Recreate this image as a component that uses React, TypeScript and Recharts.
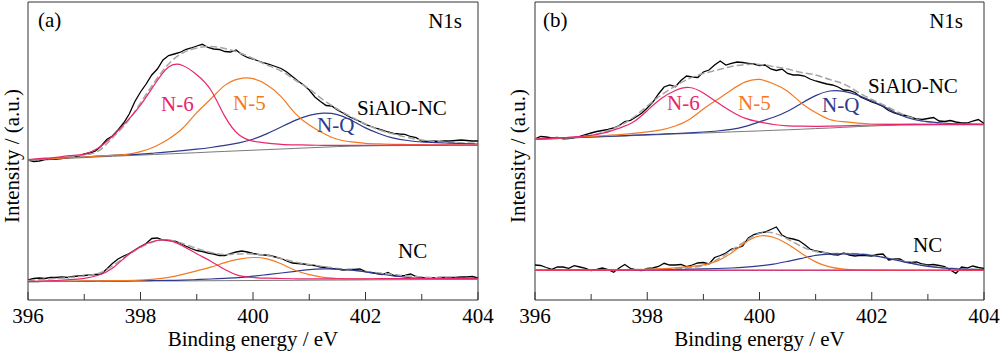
import React from 'react';
import { LineChart, Line, XAxis, YAxis, ReferenceArea } from 'recharts';

// energy grids (eV)
const FIT_E = [396, 396.25, 396.5, 396.75, 397, 397.25, 397.5, 397.75, 398, 398.25, 398.5, 398.75, 399, 399.25, 399.5, 399.75, 400,
  400.25, 400.5, 400.75, 401, 401.25, 401.5, 401.75, 402, 402.25, 402.5, 402.75, 403, 403.25, 403.5, 403.75, 404];
const RAW_E = [396, 396.1, 396.2, 396.3, 396.4, 396.5, 396.6, 396.7, 396.8, 396.9,
  397, 397.1, 397.2, 397.3, 397.4, 397.5, 397.6, 397.7, 397.8, 397.9,
  398, 398.1, 398.2, 398.3, 398.4, 398.5, 398.6, 398.7, 398.8, 398.9,
  399, 399.1, 399.2, 399.3, 399.4, 399.5, 399.6, 399.7, 399.8, 399.9,
  400, 400.1, 400.2, 400.3, 400.4, 400.5, 400.6, 400.7, 400.8, 400.9,
  401, 401.1, 401.2, 401.3, 401.4, 401.5, 401.6, 401.7, 401.8, 401.9,
  402, 402.1, 402.2, 402.3, 402.4, 402.5, 402.6, 402.7, 402.8, 402.9,
  403, 403.1, 403.2, 403.3, 403.4, 403.5, 403.6, 403.7, 403.8, 403.9, 404];
const TICKS = [396, 397, 398, 399, 400, 401, 402, 403, 404];

// (a) SiAlO-NC
const aSiRaw = [140, 138.5, 139, 140.5, 140.7, 141, 141.5, 142.5, 143, 143.7,
  146, 147, 149, 154, 160.5, 164, 170, 177, 186, 198.5,
  208, 216, 225, 231, 240, 244.5, 246, 247.5, 250.5, 252,
  254, 255.7, 252.5, 251, 250.5, 248.5, 248, 250, 245.5, 242.5,
  241, 239, 237, 235.5, 233.5, 231.5, 228, 223.5, 219, 215,
  210, 203, 198.5, 194.5, 194, 190, 187, 183.5, 181, 178.5,
  175.7, 173.5, 171.5, 170, 168, 166.7, 166, 165.7, 163.5, 162.3,
  159, 158.7, 159, 158.5, 159.2, 159, 159.5, 160, 159.5, 159, 159];
const aSiFit = [140, 140.8, 141.7, 143, 145, 149, 162, 177, 197, 218, 236, 247, 252, 253.5, 251.5, 247.5, 241.5,
  235, 229, 220, 211, 200, 191, 183, 176, 170, 166, 162.5, 160, 158.5, 157.5, 157, 156.5];
const aSiBase = [140, 140.6, 141.2, 141.8, 142.4, 143.1, 143.7, 144.3, 144.9, 145.5, 146.1, 146.7, 147.3, 148, 148.6, 149.2, 149.8,
  150.4, 151, 151.6, 152.2, 152.8, 153.4, 153.8, 154.1, 154.3, 154.4, 154.5, 154.5, 154.5, 154.5, 154.5, 154.5];
const aSiN6 = [140.5, 141.6, 142.7, 144.3, 145.9, 152, 163.7, 178.3, 194.9, 215.5, 233.1, 234.5, 225.3, 210, 183.6, 165.2, 158.8,
  156.9, 155.7, 155.2, 154.9, 154.7, 154.6, 154.6, 154.7, 154.7, 154.8, 154.8, 154.9, 154.9, 155, 155, 155];
const aSiN5 = [140.3, 140.9, 141.6, 142.3, 143, 143.9, 144.7, 145.6, 148.4, 153.3, 161.1, 171.7, 187.3, 201, 214.6, 221.2, 221.3,
  215, 203.3, 186.6, 175, 166.8, 160.7, 158.1, 156.7, 156.1, 155.7, 155.5, 155.3, 155.2, 155.1, 155, 155];
const aSiNQ = [140.3, 140.9, 141.6, 142.3, 143, 143.8, 144.6, 145.3, 145.9, 147, 148.1, 149.4, 150.8, 152.5, 154.6, 157.2, 160.8,
  166.4, 173, 179.6, 184.7, 186.8, 185.4, 179.8, 172.1, 166.3, 161.9, 159.5, 158, 157.3, 156.8, 156.3, 156];

// (a) NC
const aNcRaw = [20, 21.5, 22, 21.5, 22.5, 22.5, 23, 22.5, 23.5, 24,
  24.5, 25, 25.5, 26, 31, 36.5, 41, 44, 46.5, 50,
  53.5, 56.5, 61.5, 62, 60, 59.5, 59, 57, 54, 51.5,
  49.5, 48.5, 47, 46, 44.5, 44.5, 46.5, 48, 49, 48,
  46.5, 45.5, 45, 44.5, 43, 41.5, 39, 37, 36.5, 36,
  35, 34.5, 33, 32.5, 31.5, 31, 30, 30.5, 30.5, 31,
  28.5, 27.5, 26.5, 25.5, 27.5, 24.5, 24, 24.5, 26, 23.5,
  22.5, 21.5, 22, 22.5, 22.5, 22.5, 22.5, 23, 23, 23.5, 22];
const aNcFit = [19.5, 20.5, 21.5, 22.5, 24, 26.5, 34, 44, 52.5, 58.5, 60, 56.5, 51.5, 47.5, 45.5, 46, 46,
  44.5, 41.5, 38, 35.5, 33.5, 31.5, 30, 28.5, 27, 25.5, 24, 23, 22.2, 21.8, 21.5, 21.3];
const aNcBase = [18.3, 18.4, 18.45, 18.5, 18.6, 18.7, 18.75, 18.8, 18.9, 19, 19.05, 19.1, 19.2, 19.3, 19.35, 19.4, 19.5,
  19.6, 19.65, 19.7, 19.8, 19.9, 19.95, 20, 20.1, 20.2, 20.25, 20.3, 20.4, 20.5, 20.55, 20.6, 20.7];
const aNcN6 = [18.6, 18.9, 19.5, 20.3, 21.6, 24.7, 31.8, 43.8, 53.4, 59, 59.6, 54.1, 46.2, 38.8, 30.4, 24.4, 22.5,
  21.8, 21.5, 21.2, 21.1, 21.2, 21.2, 21.2, 21.2, 21.3, 21.3, 21.3, 21.4, 21.5, 21.6, 21.6, 21.7];
const aNcN5 = [18.6, 18.7, 18.8, 18.9, 19.1, 19.2, 19.3, 19.5, 19.9, 20.8, 22.6, 25.6, 29.2, 32.8, 37.4, 40.9, 42.5,
  41.1, 36.2, 29.7, 25.3, 22.6, 21.5, 21, 20.9, 20.9, 20.9, 20.8, 20.9, 21, 21.1, 21.1, 21.2];
const aNcNQ = [18.3, 18.5, 18.6, 18.7, 18.8, 19, 19.1, 19.2, 19.3, 19.5, 19.6, 19.9, 20.4, 21, 21.7, 22.4, 23.8,
  25.4, 27, 28.7, 30.3, 31.1, 31, 29.8, 28.1, 26, 24, 22.5, 21.7, 21.3, 21.1, 21, 21];

// (b) SiAlO-NC
const bSiRaw = [161, 163.5, 163, 162.2, 162.7, 161.2, 161.5, 162.5, 163.7, 165.5,
  167, 168.5, 169.5, 170.5, 172, 174.5, 178.5, 179.7, 183, 186.7,
  192, 198, 206, 213, 215, 213.3, 219.5, 224, 223, 222.5,
  228, 230, 235, 239, 235, 236.7, 238, 237.5, 236.7, 236,
  234.5, 235, 231, 229.5, 231, 226.5, 225, 225, 224, 221,
  219, 217.5, 216, 215, 213, 210, 209.5, 207.5, 203, 200.5,
  198, 196, 193.5, 189.5, 187, 185.5, 184.5, 183, 181, 180.5,
  181.5, 182.5, 179, 178.5, 179.5, 178, 177, 177, 179, 180.5, 176.5];
const bSiFit = [161, 161.3, 161.7, 162.6, 164.5, 168.5, 174, 182.5, 194, 205, 214, 221.5, 226.5, 230, 233.5, 235.5, 235.5,
  233.5, 231, 227.5, 225, 220.5, 216, 208, 200.5, 194, 187, 181.5, 178, 176.8, 176, 175.7, 175.5];
const bSiBase = [160.7, 161.2, 161.7, 162.3, 162.8, 163.3, 163.8, 164.4, 164.9, 165.4, 166, 166.5, 167, 167.5, 168.1, 168.6, 169.1,
  169.7, 170.2, 170.8, 171.4, 172, 172.7, 173.4, 174, 174.5, 174.8, 175, 175.1, 175.2, 175.2, 175.2, 175.2];
const bSiN6 = [161, 161.6, 162.3, 163.3, 164.6, 167.3, 171.8, 177.9, 189.4, 201.4, 209.5, 212.5, 207, 197.5, 188.6, 181.6, 178.1,
  175.5, 174.2, 173.8, 173.7, 173.8, 174.2, 174.6, 175, 175.3, 175.5, 175.6, 175.6, 175.7, 175.6, 175.6, 175.5];
const bSiN5 = [160.9, 161.5, 162.1, 162.9, 163.6, 164.4, 165.3, 166.6, 168.1, 170.2, 174, 180.5, 191, 200.5, 210.1, 218.1, 220.6,
  216.2, 208.7, 196.8, 187.4, 180.5, 178.3, 176.9, 176, 175.8, 175.8, 175.8, 175.7, 175.7, 175.7, 175.6, 175.6];
const bSiNQ = [160.7, 161.3, 161.8, 162.5, 163, 163.6, 164.1, 164.8, 165.3, 165.9, 166.5, 167.2, 168, 169, 170.6, 173.6, 178.1,
  182.7, 188.7, 196.8, 204.4, 209, 208.7, 204.9, 199, 192.5, 185.3, 180.5, 178.3, 177, 176.2, 175.8, 175.6];

// (b) NC
const bNcRaw = [35, 34.5, 32.5, 30.7, 33, 33, 31.7, 34.3, 33, 31.7,
  29.5, 30.5, 32, 30.5, 27.7, 32, 35.5, 31.5, 30, 29.5,
  31.5, 32, 33.5, 36.7, 35, 35, 35.5, 33.3, 35, 37,
  37.5, 36, 42.5, 44.5, 47, 51, 52, 54, 62, 65.5,
  67, 68, 70.5, 73, 65, 62, 61, 59.5, 55.5, 51,
  49, 48, 47, 45.5, 45, 47, 45, 44, 44.7, 44.5,
  44, 45.5, 46, 40, 41, 41, 38, 37.5, 38, 36,
  35, 35.5, 34.5, 33.3, 30, 26.7, 33, 32, 34, 32.5, 31.7];
const bNcFit = [29.7, 29.8, 29.8, 29.9, 29.9, 30, 30.2, 30.5, 30.7, 31, 31.4, 32.4, 34.4, 40.5, 49.5, 59, 66.5,
  67, 61, 53.5, 48.5, 46.7, 46.5, 46.3, 44.7, 42.2, 39.5, 36.5, 34.2, 32.5, 31.5, 30.7, 30.2];
const bNcBase = [29.6, 29.6, 29.6, 29.6, 29.6, 29.6, 29.6, 29.6, 29.6, 29.6, 29.6, 29.6, 29.6, 29.6, 29.6, 29.6, 29.6,
  29.6, 29.6, 29.6, 29.6, 29.6, 29.6, 29.6, 29.6, 29.6, 29.6, 29.6, 29.6, 29.6, 29.6, 29.6, 29.6];
const bNcN6 = [29.8, 29.8, 29.8, 29.8, 29.8, 29.8, 29.8, 29.8, 29.8, 29.8, 29.8, 29.8, 29.8, 29.8, 29.8, 29.8, 29.8,
  29.8, 29.8, 29.8, 29.8, 29.8, 29.8, 29.8, 29.8, 29.8, 29.8, 29.8, 29.8, 29.8, 29.8, 29.8, 29.8];
const bNcN5 = [29.6, 29.6, 29.7, 29.7, 29.7, 29.8, 29.9, 30.2, 30.6, 31.2, 32.1, 33.4, 35.1, 39.1, 47.1, 57.6, 64,
  62.8, 56.1, 46.6, 38.1, 33.1, 30.8, 30.1, 29.9, 29.8, 29.7, 29.7, 29.7, 29.6, 29.6, 29.6, 29.6];
const bNcNQ = [29.7, 29.8, 29.8, 29.9, 29.9, 30, 30, 30.1, 30.1, 30.3, 30.5, 30.8, 31.1, 31.5, 32, 32.8, 34.1,
  35.9, 38.6, 41.6, 44.6, 45.9, 46.1, 45.8, 44.6, 42.1, 39.1, 36.1, 33.6, 32.1, 31.2, 30.7, 30.4];

const PINK = '#e8266f';
const ORANGE = '#f47a22';
const BLUE = '#2e3a8e';
const FONT = 'Liberation Serif, serif';
const FS = 21;

interface Spectrum {
  id: string;
  raw: number[];
  fit: number[];
  base: number[];
  n6: number[];
  n5: number[];
  nq: number[];
}

const pts = (xs: number[], ys: number[]) => xs.map((e, i) => ({ e, v: ys[i] }));

const EnergyTick = (props: any) => {
  const { x, y, payload } = props;
  const major = payload.value % 2 === 0;
  return (
    <g>
      <line x1={x} y1={y} x2={x} y2={y - (major ? 8 : 6)} stroke="#333" strokeWidth={1} />
      {major && (
        <text x={x} y={y + 23} textAnchor="middle" fill="#000" style={{ fontFamily: FONT, fontSize: FS }}>
          {payload.value}
        </text>
      )}
    </g>
  );
};

const Panel: React.FC<{ left: number; width: number; mLeft: number; mRight: number; spectra: Spectrum[] }> = ({
  left, width, mLeft, mRight, spectra,
}) => (
  <div style={{ position: 'absolute', left, top: 0 }}>
    <LineChart width={width} height={351} margin={{ top: 2, right: mRight, bottom: 21, left: mLeft }}>
      <XAxis
        dataKey="e"
        type="number"
        domain={[396, 404]}
        ticks={TICKS}
        interval={0}
        tickSize={0}
        tickMargin={0}
        tick={(p: any) => <EnergyTick {...p} />}
        axisLine={false}
        height={30}
        allowDataOverflow
        label={{ value: 'Binding energy / eV', position: 'bottom', offset: 1, fill: '#000', style: { fontFamily: FONT, fontSize: FS } }}
      />
      <YAxis type="number" domain={[0, 298]} hide allowDataOverflow />
      {spectra.map((s) => (
        <React.Fragment key={s.id}>
          <Line data={pts(FIT_E, s.base)} dataKey="v" stroke="#7a7a7a" strokeWidth={1} dot={false} isAnimationActive={false} />
          <Line data={pts(RAW_E, s.raw)} dataKey="v" stroke="#000" strokeWidth={1.3} dot={false} isAnimationActive={false} />
          <Line data={pts(FIT_E, s.fit)} dataKey="v" type="natural" stroke="#a6a6a6" strokeWidth={1.5} strokeDasharray="7 3" dot={false} isAnimationActive={false} />
          <Line data={pts(FIT_E, s.nq)} dataKey="v" type="natural" stroke={BLUE} strokeWidth={1.2} dot={false} isAnimationActive={false} />
          <Line data={pts(FIT_E, s.n5)} dataKey="v" type="natural" stroke={ORANGE} strokeWidth={1.2} dot={false} isAnimationActive={false} />
          <Line data={pts(FIT_E, s.n6)} dataKey="v" type="natural" stroke={PINK} strokeWidth={1.2} dot={false} isAnimationActive={false} />
        </React.Fragment>
      ))}
      <ReferenceArea x1={396} x2={404} y1={0} y2={298} fill="none" stroke="#333" strokeWidth={1} />
    </LineChart>
  </div>
);

const T = (p: { x: number; y: number; c?: string; a?: 'start' | 'end' | 'middle'; children: React.ReactNode }) => (
  <text x={p.x} y={p.y} fill={p.c || '#000'} textAnchor={p.a || 'start'} style={{ fontFamily: FONT, fontSize: FS }}>
    {p.children}
  </text>
);

export default function App() {
  const a: Spectrum[] = [
    { id: 'si', raw: aSiRaw, fit: aSiFit, base: aSiBase, n6: aSiN6, n5: aSiN5, nq: aSiNQ },
    { id: 'nc', raw: aNcRaw, fit: aNcFit, base: aNcBase, n6: aNcN6, n5: aNcN5, nq: aNcNQ },
  ];
  const b: Spectrum[] = [
    { id: 'si', raw: bSiRaw, fit: bSiFit, base: bSiBase, n6: bSiN6, n5: bSiN5, nq: bSiNQ },
    { id: 'nc', raw: bNcRaw, fit: bNcFit, base: bNcBase, n6: bNcN6, n5: bNcN5, nq: bNcNQ },
  ];
  return (
    <div style={{ position: 'absolute', left: 0, top: 0, width: 1000, height: 351, background: '#fff', fontFamily: FONT }}>
      <Panel left={0} width={500} mLeft={28} mRight={22} spectra={a} />
      <Panel left={500} width={500} mLeft={35} mRight={16} spectra={b} />
      <svg width={1000} height={351} style={{ position: 'absolute', left: 0, top: 0, pointerEvents: 'none' }}>
        <text x={19} y={156} transform="rotate(-90 19 156)" textAnchor="middle" style={{ fontFamily: FONT, fontSize: FS }}>Intensity / (a.u.)</text>
        <text x={525} y={156} transform="rotate(-90 525 156)" textAnchor="middle" style={{ fontFamily: FONT, fontSize: FS }}>Intensity / (a.u.)</text>
        <T x={38} y={27}>(a)</T>
        <T x={462} y={28} a="end">N1s</T>
        <T x={357} y={115}>SiAlO-NC</T>
        <T x={161} y={111} c={PINK}>N-6</T>
        <T x={233} y={110} c={ORANGE}>N-5</T>
        <T x={317} y={132} c={BLUE}>N-Q</T>
        <T x={398} y={258}>NC</T>
        <T x={543} y={27}>(b)</T>
        <T x={963} y={28} a="end">N1s</T>
        <T x={868} y={93}>SiAlO-NC</T>
        <T x={667} y={110} c={PINK}>N-6</T>
        <T x={738} y={110} c={ORANGE}>N-5</T>
        <T x={822} y={112} c={BLUE}>N-Q</T>
        <T x={913} y={252}>NC</T>
      </svg>
    </div>
  );
}
